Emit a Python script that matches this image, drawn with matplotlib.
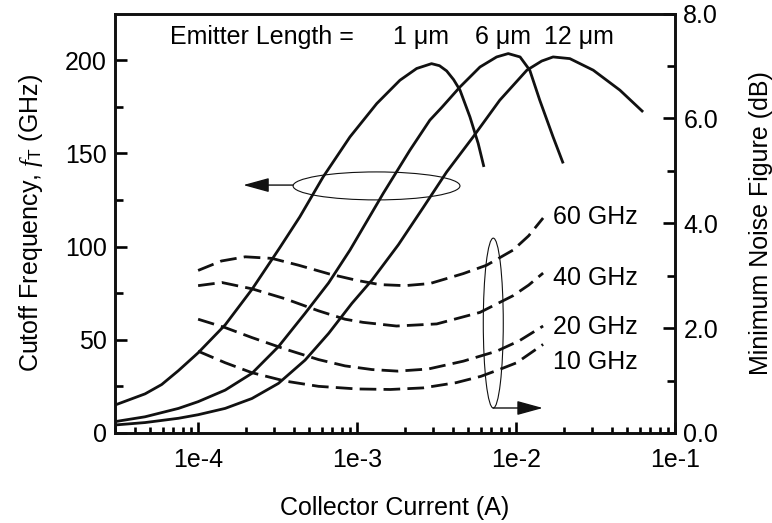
import matplotlib
matplotlib.use("Agg")
import matplotlib.pyplot as plt
from matplotlib.patches import Ellipse
from matplotlib.ticker import FixedLocator, LogLocator, NullFormatter, FuncFormatter

plt.rcParams['font.family'] = ['Liberation Sans', 'DejaVu Sans']
plt.rcParams['mathtext.fontset'] = 'custom'
plt.rcParams['mathtext.rm'] = 'Liberation Sans'
plt.rcParams['mathtext.it'] = 'Liberation Serif:italic'

# Cutoff frequency fT (GHz) vs collector current (A), for three emitter lengths
ic_1um = [3e-5, 4.64e-5, 5.9e-5, 7.53e-5, 1e-4, 1.48e-4, 2.18e-4, 2.91e-4, 3.27e-4,
          4.36e-4, 6.12e-4, 9.02e-4, 1.33e-3, 1.86e-3, 2.37e-3, 2.94e-3, 3.3e-3,
          3.66e-3, 4.05e-3, 4.44e-3, 5.13e-3, 5.78e-3, 6.28e-3]
ft_1um = [15, 21, 26, 33.5, 43, 58, 77, 93, 99.5,
          115.9, 137.4, 158.8, 176.7, 189.2, 195.5, 198.1, 197,
          194.2, 189.5, 183.9, 169.5, 155.3, 142.7]

ic_6um = [3e-5, 4.64e-5, 7.53e-5, 1e-4, 1.48e-4, 2.18e-4, 3.2e-4, 4.71e-4, 6.62e-4,
          9.02e-4, 1.46e-3, 2.15e-3, 2.87e-3, 3.4e-3, 4.44e-3, 5.93e-3, 7.55e-3,
          8.93e-3, 1.06e-2, 1.22e-2, 1.41e-2, 1.71e-2, 1.98e-2]
ft_6um = [6.1, 8.7, 13.2, 16.8, 23, 32, 46.3, 64.2, 80.5,
          98.1, 128.5, 151.7, 167.8, 174.5, 185.6, 196.3, 201.7,
          203.5, 201.7, 194.6, 178.5, 158.8, 144.6]

ic_12um = [3e-5, 4.64e-5, 7.53e-5, 1e-4, 1.48e-4, 2.18e-4, 3.2e-4, 4.71e-4, 6.62e-4,
           9.27e-4, 1.24e-3, 1.82e-3, 2.61e-3, 3.66e-3, 5.37e-3, 7.9e-3, 1.17e-2,
           1.45e-2, 1.71e-2, 2.18e-2, 3.06e-2, 4.5e-2, 6.3e-2]
ft_12um = [4.3, 5.6, 7.9, 9.8, 13.2, 18.5, 26.6, 39.1, 53.4,
           69.5, 82, 101, 121, 140, 158.8, 178.5, 194.6,
           199.5, 201.7, 200.8, 194.6, 183.9, 172.2]

# Minimum noise figure (dB) vs collector current (A), at four frequencies
ic_nf60 = [1e-4, 1.4e-4, 1.98e-4, 2.91e-4, 4.28e-4, 6.74e-4, 1e-3, 1.39e-3, 2e-3,
           2.87e-3, 4.66e-3, 6.53e-3, 9.6e-3, 1.2e-2, 1.48e-2]
nf_60ghz = [3.10, 3.28, 3.36, 3.33, 3.20, 3.03, 2.91, 2.83, 2.81,
            2.85, 3.04, 3.20, 3.49, 3.76, 4.10]
ic_nf40 = [1e-4, 1.41e-4, 2.18e-4, 3.53e-4, 5.72e-4, 8.4e-4, 1.09e-3, 1.77e-3,
           3.17e-3, 5.93e-3, 9.6e-3, 1.2e-2, 1.48e-2]
nf_40ghz = [2.81, 2.87, 2.75, 2.56, 2.33, 2.17, 2.11, 2.04,
            2.08, 2.30, 2.62, 2.82, 3.05]
ic_nf20 = [1e-4, 1.48e-4, 2.18e-4, 3.53e-4, 5.72e-4, 8.4e-4, 1.24e-3, 1.8e-3,
           2.8e-3, 4.66e-3, 7.55e-3, 1.05e-2, 1.48e-2]
nf_20ghz = [2.17, 2.01, 1.82, 1.60, 1.40, 1.28, 1.21, 1.18,
            1.22, 1.37, 1.56, 1.76, 2.04]
ic_nf10 = [1e-4, 1.48e-4, 2.18e-4, 3.53e-4, 5.72e-4, 1e-3, 1.62e-3, 2.6e-3,
           4.2e-3, 6e-3, 8e-3, 1.01e-2, 1.48e-2]
nf_10ghz = [1.56, 1.34, 1.15, 0.99, 0.89, 0.84, 0.83, 0.86,
            0.96, 1.08, 1.22, 1.34, 1.69]

length_labels = ["1 \u03bcm", "6 \u03bcm", "12 \u03bcm"]
freq_labels = ["60 GHz", "40 GHz", "20 GHz", "10 GHz"]
x_ticks = [1e-4, 1e-3, 1e-2, 1e-1]
x_tick_labels = ["1e-4", "1e-3", "1e-2", "1e-1"]

FS = 18
LW = 2.0
SPINE = 1.9
INK = '#111111'

fig = plt.figure(figsize=(7.72, 5.23), dpi=100)
ax = fig.add_axes([115 / 772, 1 - 433 / 523, 560 / 772, 419.5 / 523])
ax2 = ax.twinx()

for x, y in [(ic_1um, ft_1um), (ic_6um, ft_6um), (ic_12um, ft_12um)]:
    ax.plot(x, y, color=INK, lw=LW, solid_joinstyle='round', solid_capstyle='butt')

for x, y in [(ic_nf60, nf_60ghz), (ic_nf40, nf_40ghz),
             (ic_nf20, nf_20ghz), (ic_nf10, nf_10ghz)]:
    ax2.plot(x, y, color=INK, lw=LW, dashes=(6, 2.6), dash_capstyle='butt',
             dash_joinstyle='round')

ax.set_xscale('log')
ax.set_xlim(3e-5, 1e-1)
ax.set_ylim(0, 225)
ax2.set_ylim(0, 8)

ax.xaxis.set_major_locator(FixedLocator(x_ticks))
ax.xaxis.set_major_formatter(FuncFormatter(
    lambda v, p: x_tick_labels[x_ticks.index(v)] if v in x_ticks else ""))
ax.xaxis.set_minor_locator(LogLocator(base=10, subs=range(2, 10), numticks=20))
ax.xaxis.set_minor_formatter(NullFormatter())

ax.set_yticks([0, 50, 100, 150, 200])
ax.set_yticks([25, 75, 125, 175], minor=True)
ax2.set_yticks([0, 2, 4, 6, 8])
ax2.set_yticks([1, 3, 5, 7], minor=True)
ax2.yaxis.set_major_formatter(FuncFormatter(lambda v, p: f"{v:.1f}"))

ax.tick_params(axis='x', which='major', direction='in', length=8, width=SPINE,
               labelsize=FS, pad=11, top=False)
ax.tick_params(axis='x', which='minor', direction='in', length=4.5, width=SPINE, top=False)
ax.tick_params(axis='y', which='major', direction='in', length=8.6, width=SPINE,
               labelsize=FS, pad=6, right=False)
ax.tick_params(axis='y', which='minor', direction='in', length=5.8, width=SPINE, right=False)
ax2.tick_params(axis='y', which='major', direction='in', length=8.6, width=SPINE,
                labelsize=FS, pad=6)
ax2.tick_params(axis='y', which='minor', direction='in', length=5.8, width=SPINE)

for a in (ax, ax2):
    for s in a.spines.values():
        s.set_linewidth(SPINE)
        s.set_color(INK)

ax.set_xlabel("Collector Current (A)", fontsize=FS, labelpad=17)
ax.set_ylabel(r"Cutoff Frequency, $f_{\mathrm{T}}$ (GHz)", fontsize=FS, labelpad=14)
ax2.set_ylabel("Minimum Noise Figure (dB)", fontsize=FS, labelpad=22)

# Labels naming each curve family
ax.text(0.2625, 0.944, "Emitter Length =", transform=ax.transAxes, fontsize=FS,
        ha='center', va='center')
for lbl, xf in zip(length_labels, [0.546, 0.693, 0.829]):
    ax.text(xf, 0.944, lbl, transform=ax.transAxes, fontsize=FS, ha='center', va='center')
for lbl, yf in zip(freq_labels, [0.515, 0.369, 0.253, 0.169]):
    ax.text(0.782, yf, lbl, transform=ax.transAxes, fontsize=FS, ha='left', va='center')

# Ellipses grouping the curves, with arrows pointing to the matching axis
arrow_style = dict(arrowstyle="-|>,head_length=0.8,head_width=0.22",
                   mutation_scale=20, lw=1.0, color=INK, shrinkA=0, shrinkB=0)
ax.add_patch(Ellipse((0.467, 0.589), 0.298, 0.0667, transform=ax.transAxes,
                     fill=False, lw=0.8, ec=INK))
ax.annotate("", xy=(0.229, 0.591), xytext=(0.318, 0.591),
            xycoords=ax.transAxes, textcoords=ax.transAxes, arrowprops=arrow_style)
ax.add_patch(Ellipse((0.6755, 0.262), 0.0357, 0.405, transform=ax.transAxes,
                     fill=False, lw=0.8, ec=INK))
ax.annotate("", xy=(0.764, 0.0596), xytext=(0.6755, 0.0596),
            xycoords=ax.transAxes, textcoords=ax.transAxes, arrowprops=arrow_style)

fig.savefig("out.png", dpi=100)
